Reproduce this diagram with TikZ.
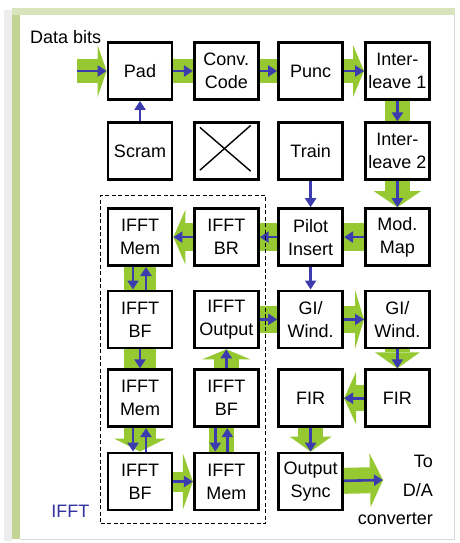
\documentclass[tikz,border=0pt]{standalone}
\usepackage{fontspec}
\setmainfont{Liberation Sans}
\usepackage{xcolor}
\usepackage{tikz}
\usetikzlibrary{arrows.meta,positioning,fit}

\definecolor{barGreen}{RGB}{150,200,50}
\definecolor{flowBlue}{RGB}{60,60,175}
\definecolor{ifftBlue}{RGB}{50,50,160}
\definecolor{frameTop}{RGB}{218,228,188}
\definecolor{frameSide}{RGB}{196,212,150}

\begin{document}
\begin{tikzpicture}[
    x=1pt, y=1pt,
    blk/.style={draw, line width=2.8pt, fill=white, minimum width=64pt,
                minimum height=57pt, inner sep=0pt, align=center,
                font=\fontsize{18}{23}\selectfont},
    band/.style={draw=barGreen, line width=#1},
    band/.default=24pt,
    bhead/.style 2 args={-{Triangle[length=#1, width=#2, line width=0pt]}},
    flow/.style={draw=flowBlue, line width=2.6pt, -{Triangle[length=9pt, width=11pt]}},
    lbl/.style={font=\fontsize{18}{28.5}\selectfont}
]

% ── frame ──
\useasboundingbox (0,0) rectangle (460,-543);
\fill[white] (0,0) rectangle (460,-543);
\fill[black!7] (4,-10) rectangle (12,-541);
\fill[frameSide] (12,-8) rectangle (20,-539);
\fill[frameTop] (12,-8) rectangle (455,-15);
\draw[black!15, line width=0.8pt] (454,-15) -- (454,-539) -- (20,-539);

% ── Row 1 ──
\node[blk] (pad) at (140,-71) {Pad};
\node[blk, right=19.5pt of pad] (conv) {Conv.\\Code};
\node[blk, right=17.5pt of conv] (punc) {Punc};
\node[blk, right=20pt of punc] (ilv1) {Inter-\\leave 1};

% ── Row 2 ──
\node[blk, below=20.5pt of pad] (scram) {Scram};
\node[blk, below=20.5pt of conv] (cross) {};
\node[blk, below=20.5pt of punc] (train) {Train};
\node[blk, below=20.5pt of ilv1] (ilv2) {Inter-\\leave 2};
\draw[line width=1.4pt] ([shift={(7pt,-6pt)}]cross.north west) -- ([shift={(-9pt,10pt)}]cross.south east);
\draw[line width=1.4pt] ([shift={(-9pt,-4pt)}]cross.north east) -- ([shift={(7pt,11pt)}]cross.south west);

% ── Row 3 ──
\node[blk, below=26pt of scram] (memA) {IFFT\\Mem};
\node[blk, below=26pt of cross] (br) {IFFT\\BR};
\node[blk, below=26pt of train] (pilot) {Pilot\\Insert};
\node[blk, below=26pt of ilv2] (map) {Mod.\\Map};

% ── Row 4 ──
\node[blk, below=22.5pt of memA] (bfA) {IFFT\\BF};
\node[blk, below=22.5pt of br] (fftout) {IFFT\\Output};
\node[blk, below=22.5pt of pilot] (giA) {GI/\\Wind.};
\node[blk, below=22.5pt of map] (giB) {GI/\\Wind.};

% ── Row 5 ──
\node[blk, below=19pt of bfA] (memB) {IFFT\\Mem};
\node[blk, below=19pt of fftout] (bfB) {IFFT\\BF};
\node[blk, below=19pt of giA] (firA) {FIR};
\node[blk, below=19pt of giB] (firB) {FIR};

% ── Row 6 ──
\node[blk, below=23.5pt of memB] (bfC) {IFFT\\BF};
\node[blk, below=23.5pt of bfB] (memC) {IFFT\\Mem};
\node[blk, below=23.5pt of firA] (sync) {Output\\Sync};

% ── ends ──
\coordinate (din) at (77,-71);
\coordinate (dac) at (383,-480);
\node[lbl, anchor=base east] (dbits) at ([shift={(-2pt,-2pt)}]pad.north west) {Data bits};
\node[lbl, anchor=north east, align=right, inner sep=0pt] (todac) at (433,-455) {To\\D/A\\converter};

% ── green bands ──
\draw[band=23pt, bhead={9pt}{52pt}] (din) -- (pad);
\draw[band=23pt] (pad) -- (conv);
\draw[band=23pt] (conv) -- (punc);
\draw[band=23pt, bhead={11pt}{52pt}] (punc) -- (ilv1);
\draw[band=25pt] (ilv1) -- (ilv2);
\draw[band=25pt, bhead={16pt}{47pt}] (ilv2) -- (map);
\draw[band=28pt] (map) -- (pilot);
\draw[band=28pt] (pilot) -- (br);
\draw[band=28pt, bhead={12pt}{55pt}] (br) -- (memA);
\draw[band=32pt] (memA) -- (bfA);
\draw[band=32pt] (bfA) -- (memB);
\draw[band=32pt, bhead={13pt}{52pt}] (memB) -- (bfC);
\draw[band=20pt, bhead={10pt}{56pt}] (bfC) -- (memC);
\draw[band=25pt] ([xshift=-5pt]memC.north) -- ([xshift=-5pt]bfB.south);
\draw[band=25pt, bhead={10pt}{48pt}] (bfB) -- (fftout);
\draw[band=27pt] (fftout) -- (giA);
\draw[band=27pt, bhead={9pt}{59pt}] (giA) -- (giB);
\draw[band=25pt, bhead={16pt}{45pt}] (giB) -- (firB);
\draw[band=26pt, bhead={12pt}{52pt}] (firB) -- (firA);
\draw[band=25pt, bhead={15pt}{42pt}] (firA) -- (sync);
\draw[band=26pt, bhead={13pt}{54pt}] (sync) -- (dac);

% ── blue flow ──
\draw[flow] (din) -- (pad);
\draw[flow] (pad) -- (conv);
\draw[flow] (conv) -- (punc);
\draw[flow] (punc) -- (ilv1);
\draw[flow] (ilv1) -- (ilv2);
\draw[flow] (ilv2) -- (map);
\draw[flow] (scram) -- (pad);
\draw[flow] (train) -- (pilot);
\draw[flow] (map) -- (pilot);
\draw[flow] (pilot) -- (br);
\draw[flow] (br) -- (memA);
\draw[flow] ([xshift=-7pt]memA.south) -- ([xshift=-7pt]bfA.north);
\draw[flow] ([xshift=6pt]bfA.north) -- ([xshift=6pt]memA.south);
\draw[flow] (bfA) -- (memB);
\draw[flow] ([xshift=-7pt]memB.south) -- ([xshift=-7pt]bfC.north);
\draw[flow] ([xshift=6pt]bfC.north) -- ([xshift=6pt]memB.south);
\draw[flow] (bfC) -- (memC);
\draw[flow] ([xshift=-11pt]bfB.south) -- ([xshift=-11pt]memC.north);
\draw[flow] ([xshift=1pt]memC.north) -- ([xshift=1pt]bfB.south);
\draw[flow] (bfB) -- (fftout);
\draw[flow] (pilot) -- (giA);
\draw[flow] (fftout) -- (giA);
\draw[flow] (giA) -- (giB);
\draw[flow] (giB) -- (firB);
\draw[flow] (firB) -- (firA);
\draw[flow] (firA) -- (sync);
\draw[flow] (sync) -- (dac);

% ── IFFT block ──
\node[draw, line width=1.4pt, dash pattern=on 4pt off 2.5pt, inner xsep=6pt,
      inner ysep=12pt, fit=(memA)(memC)] (ifft) {};
\node[lbl, text=ifftBlue, anchor=base east] (ifftlbl) at ([shift={(-7pt,7pt)}]ifft.south west) {IFFT};

\end{tikzpicture}
\end{document}
